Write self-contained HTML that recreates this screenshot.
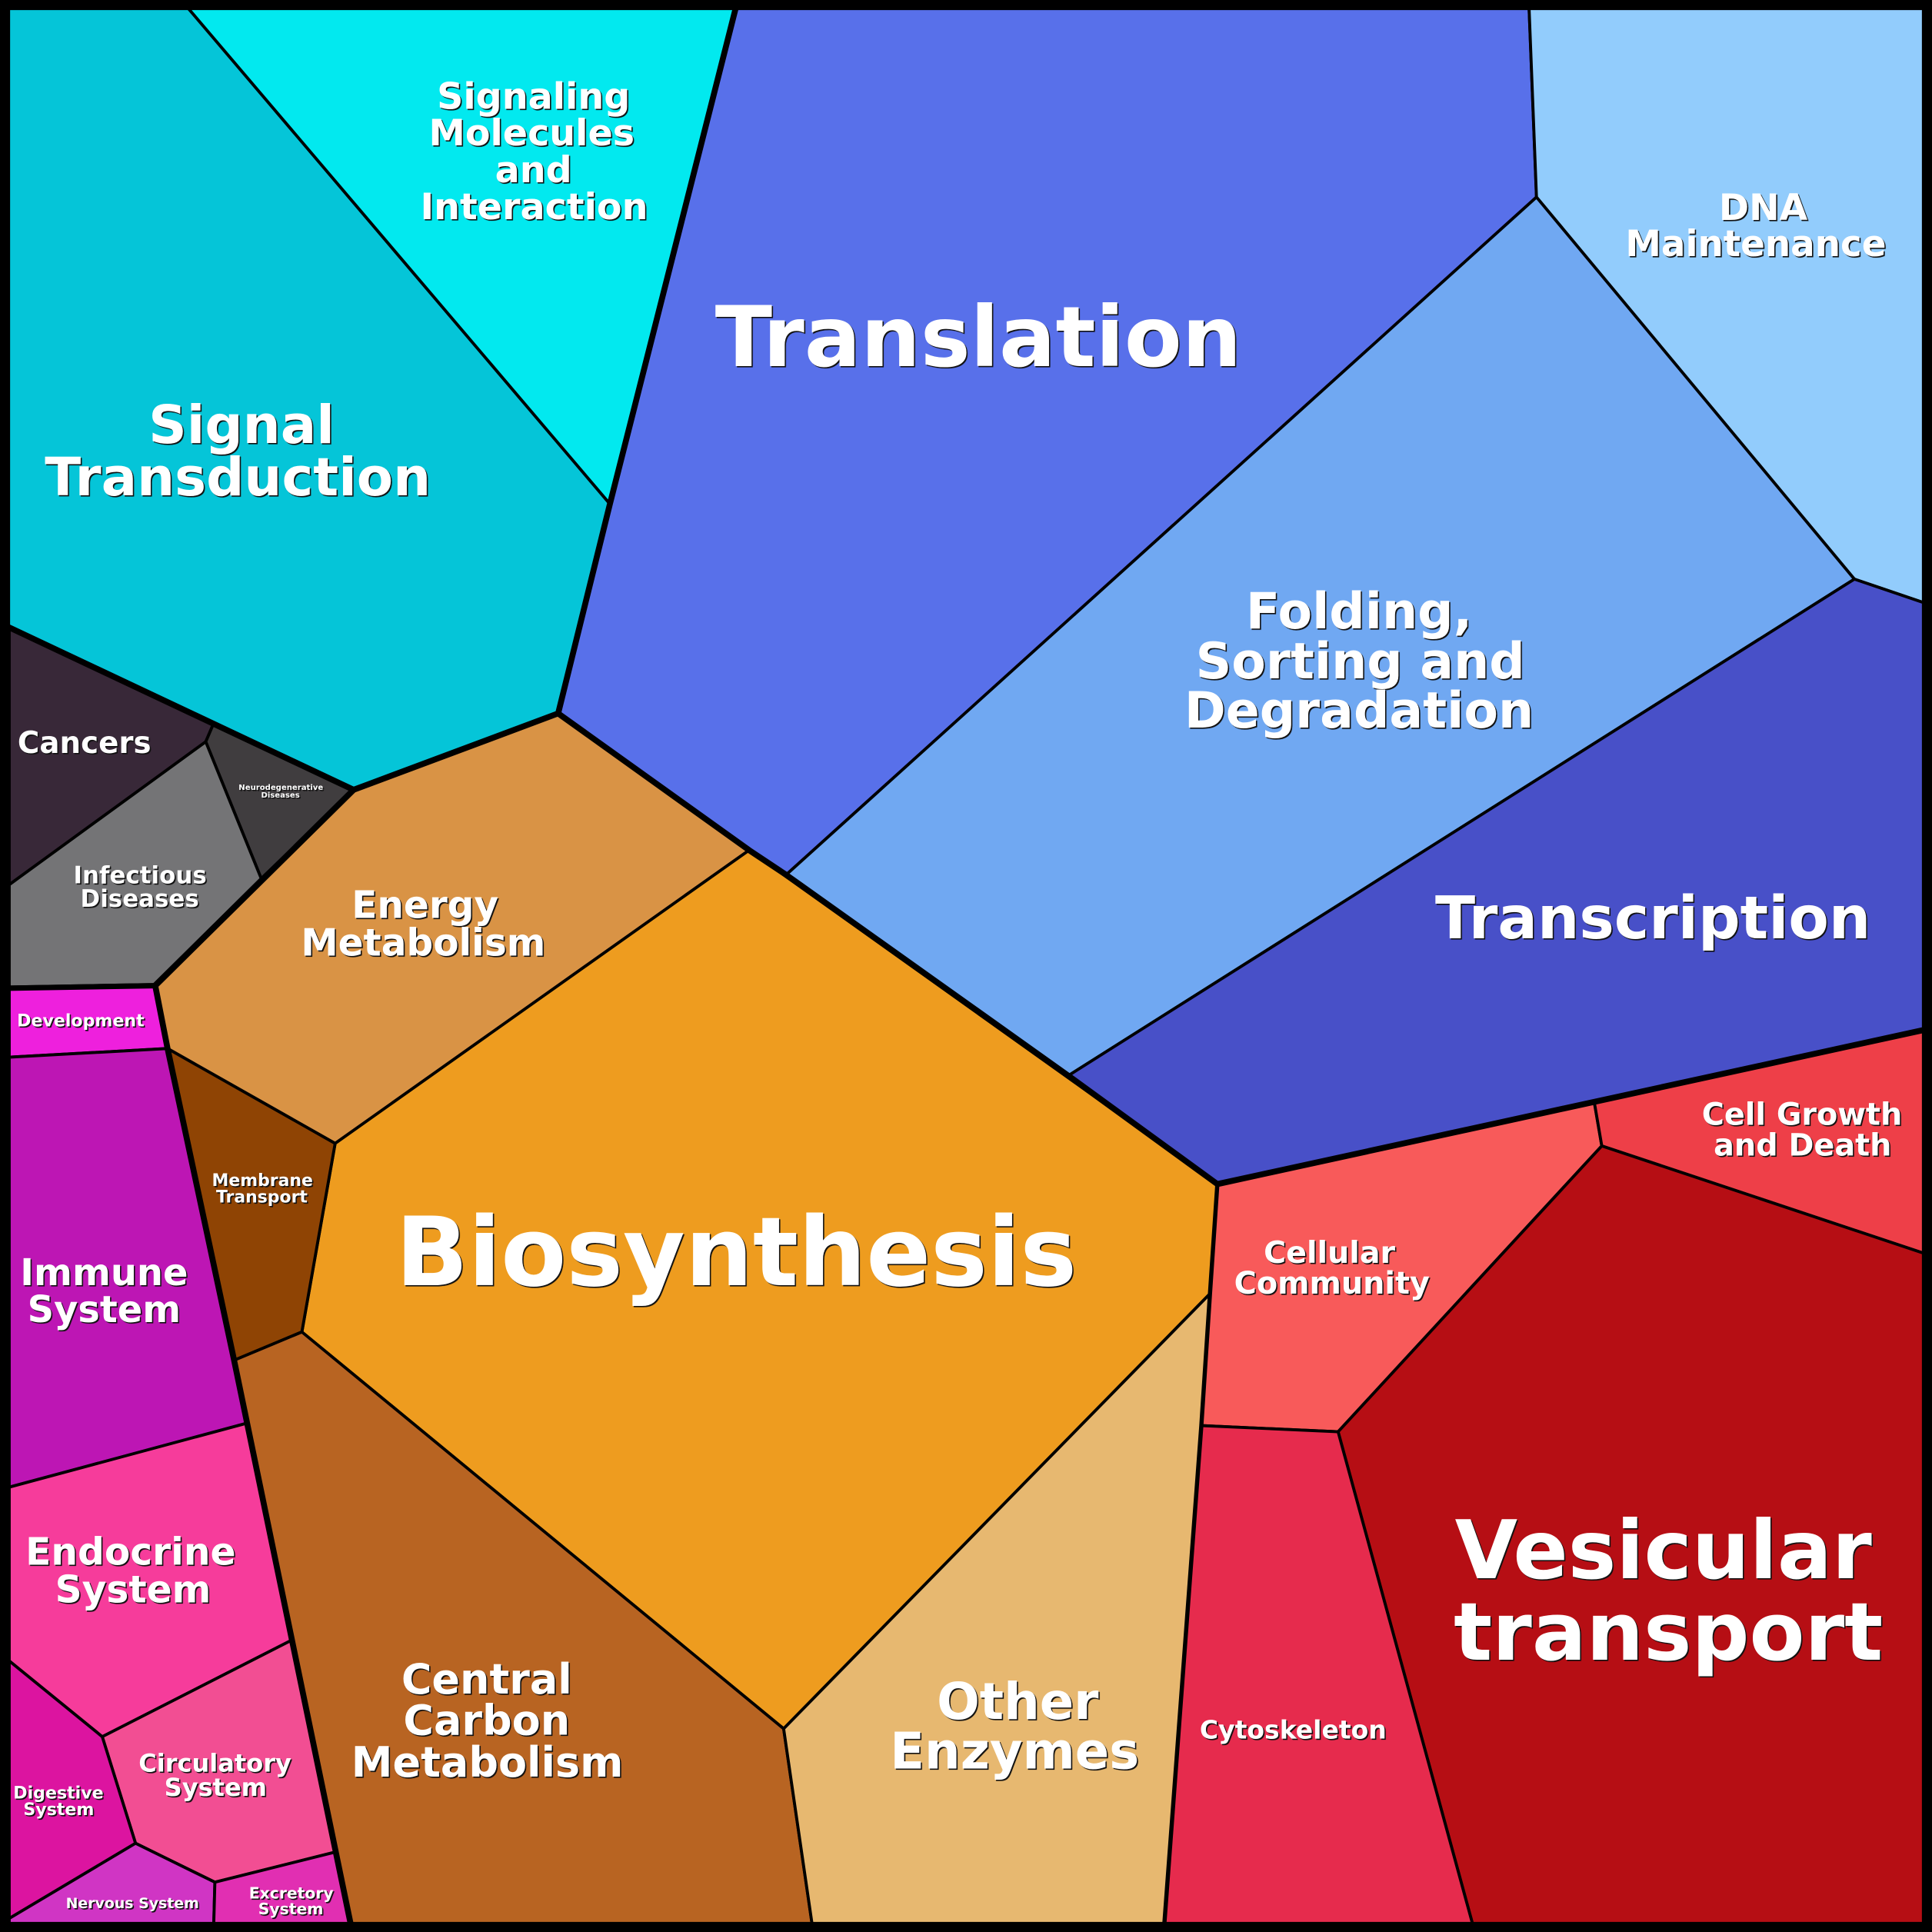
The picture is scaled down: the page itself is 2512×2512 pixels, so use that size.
<!DOCTYPE html>
<html><head><meta charset="utf-8"><style>
html,body{margin:0;padding:0;background:#888;width:2512px;height:2512px;overflow:hidden}
svg{display:block}
polygon{stroke:#000;stroke-width:2.4;stroke-linejoin:round}
polyline{fill:none;stroke:#000;stroke-width:4.8;stroke-linejoin:round;stroke-linecap:round}
text{font-family:"DejaVu Sans",sans-serif;font-weight:700;fill:#fff;text-anchor:middle}
.t{filter:drop-shadow(1px 1px .2px #111)}
</style></head><body>
<svg width="2512" height="2512" viewBox="0 0 1568 1568" xmlns="http://www.w3.org/2000/svg">
<rect x="0" y="0" width="1568" height="1568" rx="3" fill="#000"/>
<g>
<polygon fill="#05c5d8" points="7,7 153,7 495,409 453,579 287,641 7,509"/>
<polygon fill="#02e9ef" points="153,7 597,7 495,409"/>
<polygon fill="#5870ea" points="597,7 1241,7 1247,160 638,710 453,579"/>
<polygon fill="#92ccfc" points="1241,7 1561,7 1561,489 1505,470 1247,160"/>
<polygon fill="#70a8f2" points="1247,160 1505,470 867,873 638,710"/>
<polygon fill="#4850c8" points="1505,470 1561,489 1561,836 988,961 867,873"/>
<polygon fill="#d99345" points="287,641 453,579 608,690 272,928 136,851 126,800"/>
<polygon fill="#ee9c1f" points="608,690 988,961 982,1050 636,1403 245,1081 272,928"/>
<polygon fill="#8f4404" points="136,851 272,928 245,1081 190,1104"/>
<polygon fill="#b86422" points="190,1104 245,1081 636,1403 659,1561 285,1561"/>
<polygon fill="#e7b870" points="982,1050 975,1157 945,1561 659,1561 636,1403"/>
<polygon fill="#f85a5a" points="988,961 1294,895 1300,930 1086,1162 975,1157"/>
<polygon fill="#ee3f48" points="1294,895 1561,836 1561,1017 1300,930"/>
<polygon fill="#b60e14" points="1300,930 1561,1017 1561,1561 1195,1561 1086,1162"/>
<polygon fill="#e62b4d" points="975,1157 1086,1162 1195,1561 945,1561"/>
<polygon fill="#382838" points="7.5,510 173,588 167,602 7.5,718"/>
<polygon fill="#403d3f" points="173,588 287,641 212,713 167,602"/>
<polygon fill="#747476" points="7.5,718 167,602 212,713 125,799 7.5,801"/>
<polygon fill="#ee20dd" points="7.5,802 126,800 135,851 7.5,858"/>
<polygon fill="#bd16b4" points="7.5,858 136,851 200.5,1155 7.5,1207"/>
<polygon fill="#f63c9b" points="7.5,1207 200.5,1155 237,1331 83,1409.5 7.5,1348"/>
<polygon fill="#f24e93" points="83,1409.5 237,1331 272.6,1503 174.4,1527.6 110,1496"/>
<polygon fill="#dc14a0" points="7.5,1348 83,1409.5 110,1496 7.5,1557"/>
<polygon fill="#d035c4" points="7.5,1557 110,1496 174.4,1527.6 173.5,1561 7.5,1561"/>
<polygon fill="#e12fb2" points="174.4,1527.6 272.6,1503 285,1561 173.5,1561"/>
</g>
<polyline points="7,509 287,641 453,579 495,409 597,7"/>
<polyline points="287,641 126,800 136,851 190,1104 284.5,1561"/>
<polyline points="453,579 608,690 638,710 867,873 988,961 1561,836"/>
<polyline style="stroke-width:3.4" points="988,961 982,1050 975,1157 945,1561"/>
<polyline style="stroke-width:4.4" points="126,800 7,802"/>
<rect x="3.75" y="3.75" width="1560.5" height="1560.5" fill="none" stroke="#000" stroke-width="7.5"/>
<g class="t">
<text x="433" y="88.2" font-size="29.7">Signaling</text>
<text x="431.5" y="118" font-size="29.7">Molecules</text>
<text x="433" y="148" font-size="29.7">and</text>
<text x="433.5" y="178" font-size="29.7">Interaction</text>
<text x="1431" y="178.5" font-size="29.5">DNA</text>
<text x="1425" y="208" font-size="29.2">Maintenance</text>
<text x="794" y="297" font-size="68">Translation</text>
<text x="1103" y="510" font-size="40.5">Folding,</text>
<text x="1104" y="550.5" font-size="40.5">Sorting and</text>
<text x="1103" y="590.5" font-size="40.5">Degradation</text>
<text x="1341.5" y="761.5" font-size="47.7">Transcription</text>
<text x="196" y="359.5" font-size="43">Signal</text>
<text x="193" y="402" font-size="43">Transduction</text>
<text x="68.5" y="611" font-size="24.2">Cancers</text>
<text x="113.7" y="717" font-size="19.3">Infectious</text>
<text x="113.4" y="736" font-size="19.3">Diseases</text>
<text x="228" y="641" font-size="6.3">Neurodegenerative</text>
<text x="227.6" y="647.2" font-size="6.3">Diseases</text>
<text x="345" y="745" font-size="30.3">Energy</text>
<text x="343.5" y="775.5" font-size="30.3">Metabolism</text>
<text x="65.5" y="833" font-size="13.8">Development</text>
<text x="84.5" y="1043" font-size="29.9">Immune</text>
<text x="84.5" y="1073" font-size="29.9">System</text>
<text x="106" y="1270" font-size="30.4">Endocrine</text>
<text x="108" y="1300.5" font-size="30.4">System</text>
<text x="213" y="962.5" font-size="13.7">Membrane</text>
<text x="212.5" y="976" font-size="13.7">Transport</text>
<text x="174.5" y="1437.8" font-size="20">Circulatory</text>
<text x="175" y="1457.6" font-size="20">System</text>
<text x="47.4" y="1459.6" font-size="13.8">Digestive</text>
<text x="47.7" y="1473" font-size="13.8">System</text>
<text x="107.5" y="1548.7" font-size="11.8">Nervous System</text>
<text x="236.4" y="1541" font-size="12.7">Excretory</text>
<text x="236" y="1553.7" font-size="12.7">System</text>
<text x="395" y="1374.5" font-size="33.7">Central</text>
<text x="395" y="1408" font-size="33.7">Carbon</text>
<text x="395.5" y="1442" font-size="33.7">Metabolism</text>
<text x="597.5" y="1043" font-size="77.3">Biosynthesis</text>
<text x="826" y="1395" font-size="40.9">Other</text>
<text x="823.5" y="1435.5" font-size="40.9">Enzymes</text>
<text x="1462.5" y="913" font-size="24.8">Cell Growth</text>
<text x="1463" y="938" font-size="24.8">and Death</text>
<text x="1079" y="1025" font-size="24.7">Cellular</text>
<text x="1081" y="1050" font-size="24.8">Community</text>
<text x="1049.5" y="1411" font-size="20.6">Cytoskeleton</text>
<text x="1350" y="1281" font-size="65.7">Vesicular</text>
<text x="1354" y="1347" font-size="65.4">transport</text>
</g>
</svg>
</body></html>
